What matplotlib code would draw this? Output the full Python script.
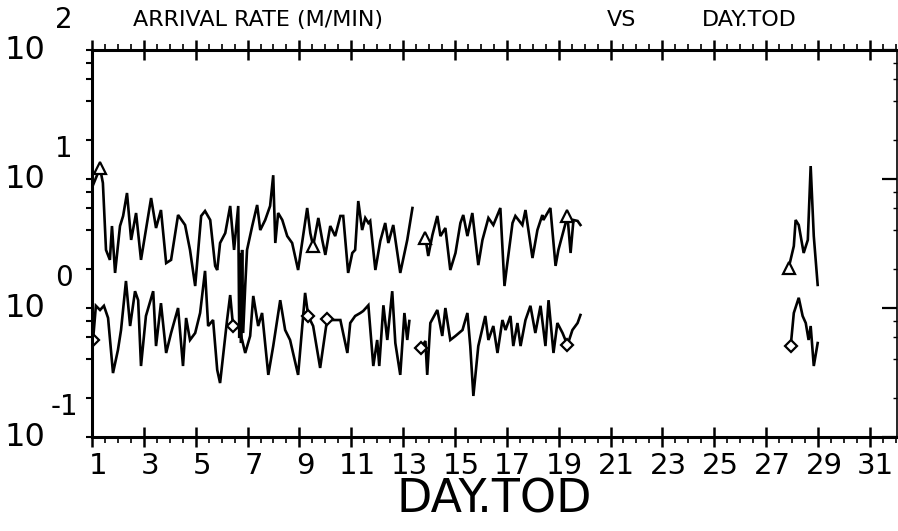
import numpy as np
import matplotlib
matplotlib.use("Agg")
import matplotlib.pyplot as plt
from matplotlib import transforms
from matplotlib.ticker import LogLocator, NullFormatter, MultipleLocator, FixedLocator

nan = np.nan

# upper curve (triangle symbol): three pieces with gaps between them
up_day_1 = [1.04, 1.31, 1.42, 1.54, 1.69, 1.77, 1.89, 2.08, 2.20, 2.35,
            2.51, 2.70, 2.89, 3.28, 3.47, 3.66, 3.86, 4.05, 4.32, 4.59,
            4.78, 4.98, 5.21, 5.36, 5.56, 5.75, 5.83, 5.94, 6.14, 6.33,
            6.48, 6.64, 6.68, 6.71, 6.75, 6.79, 6.83, 6.91, 6.98, 7.18,
            7.37, 7.49, 7.68, 7.87, 7.99, 8.07, 8.18, 8.34, 8.53, 8.72,
            8.95, 9.30, 9.42, 9.53, 9.73, 9.88, 10.00, 10.19, 10.38, 10.58,
            10.69, 10.88, 11.04, 11.15, 11.27, 11.42, 11.54, 11.66, 11.73, 11.93,
            12.12, 12.31, 12.43, 12.62, 12.89, 13.16, 13.36]
up_val_1 = [8.98, 12.2, 9.31, 2.82, 2.36, 4.32, 1.87, 4.32, 5.17, 7.79,
            3.37, 5.45, 2.36, 7.12, 4.17, 5.75, 2.23, 2.36, 5.26, 4.40,
            2.82, 1.48, 5.17, 5.65, 4.81, 2.12, 1.97, 3.19, 3.81, 6.18,
            2.82, 6.18, 0.585, 2.67, 0.535, 2.82, 0.64, 1.48, 2.82, 4.32,
            6.29, 4.02, 4.81, 6.18, 10.7, 3.19, 5.45, 4.81, 3.61, 3.19,
            1.97, 5.96, 3.81, 3.02, 4.99, 3.37, 2.58, 4.32, 3.61, 5.17,
            5.17, 1.87, 2.67, 2.82, 6.75, 4.02, 4.99, 4.56, 4.73, 1.97,
            3.31, 4.56, 3.19, 4.40, 1.87, 3.37, 5.96]
up_day_2 = [13.66, 13.86, 13.97, 14.13, 14.32, 14.44, 14.63, 14.82, 15.02, 15.21,
            15.32, 15.48, 15.67, 15.90, 16.06, 16.29, 16.48, 16.75, 16.91, 17.02,
            17.22, 17.33, 17.60, 17.72, 17.99, 18.18, 18.37, 18.41, 18.68, 18.88,
            18.99, 19.34, 19.46, 19.57, 19.73, 19.84]
up_val_2 = [3.19, 3.49, 2.53, 3.68, 5.17, 3.61, 4.17, 1.97, 2.67, 4.56,
            5.26, 3.61, 5.45, 2.15, 3.37, 4.99, 4.40, 5.96, 1.48, 2.23,
            4.56, 5.17, 4.40, 5.75, 2.44, 4.02, 5.26, 4.81, 5.96, 2.12,
            2.82, 5.17, 2.67, 4.81, 4.73, 4.40]
up_day_3 = [27.87, 28.07, 28.14, 28.26, 28.45, 28.61, 28.72, 28.84, 28.99]
up_val_3 = [2.04, 3.02, 4.81, 4.40, 2.67, 3.37, 12.6, 3.61, 1.51]

# lower curve (diamond symbol)
lo_day_1 = [1.04, 1.15, 1.31, 1.46, 1.62, 1.81, 2.00, 2.12, 2.31, 2.47,
            2.66, 2.78, 2.89, 3.08, 3.36, 3.47, 3.66, 3.86, 4.05, 4.32,
            4.51, 4.63, 4.78, 4.98, 5.17, 5.36, 5.48, 5.67, 5.83, 5.94,
            6.21, 6.33, 6.44, 6.64, 6.79, 6.91, 7.10, 7.22, 7.41, 7.56,
            7.80, 7.99, 8.26, 8.45, 8.64, 8.95, 9.22, 9.34, 9.53, 9.80,
            10.07, 10.27, 10.58, 10.85, 10.96, 11.15, 11.35, 11.46, 11.66, 11.85,
            12.00, 12.08, 12.24, 12.39, 12.58, 12.70, 12.89, 13.05, 13.16, 13.24]
lo_val_1 = [0.565, 1.04, 0.965, 1.04, 0.837, 0.313, 0.472, 0.675, 1.62, 0.725,
            1.35, 1.15, 0.355, 0.867, 1.35, 0.507, 1.09, 0.448, 0.640, 1.00,
            0.355, 0.837, 0.565, 0.640, 0.915, 1.94, 0.725, 0.807, 0.331, 0.262,
            0.807, 1.26, 0.725, 0.725, 0.565, 0.448, 0.607, 1.24, 0.725, 0.915,
            0.303, 0.507, 1.15, 0.675, 0.565, 0.303, 1.31, 0.867, 0.725, 0.343,
            0.82, 0.807, 0.807, 0.448, 0.765, 0.867, 0.915, 0.948, 1.05, 0.355,
            0.565, 0.355, 1.05, 0.565, 1.35, 0.535, 0.303, 0.915, 0.565, 0.793]
lo_day_2 = [13.70, 13.86, 13.93, 14.05, 14.32, 14.51, 14.63, 14.82, 15.02, 15.29,
            15.48, 15.59, 15.71, 15.90, 16.17, 16.29, 16.48, 16.64, 16.83, 16.95,
            17.14, 17.25, 17.41, 17.53, 17.72, 17.91, 18.10, 18.30, 18.49, 18.61,
            18.80, 18.95, 19.15, 19.34, 19.53, 19.73, 19.84]
lo_val_2 = [0.49, 0.555, 0.303, 0.765, 0.965, 0.607, 1.00, 0.565, 0.607, 0.675,
            0.915, 0.507, 0.208, 0.507, 0.867, 0.565, 0.725, 0.448, 0.807, 0.675,
            0.867, 0.507, 0.765, 0.507, 0.807, 1.04, 0.640, 1.04, 0.507, 1.15,
            0.448, 0.765, 0.640, 0.516, 0.675, 0.765, 0.883]
lo_day_3 = [27.95, 28.07, 28.26, 28.41, 28.53, 28.64, 28.72, 28.84, 28.99]
lo_val_3 = [0.507, 0.915, 1.20, 0.867, 0.765, 0.565, 0.725, 0.355, 0.535]

# days where the plotter drew a symbol
tri_days = [1.31, 9.53, 13.86, 19.34, 27.87]
dia_days = [1.04, 6.44, 9.34, 10.07, 13.70, 19.34, 27.95]

x_ticks = list(range(1, 32, 2))
y_decades = [0.1, 1, 10, 100]
y_exps = ["-1", "0", "1", "2"]


def join(*parts):
    out = []
    for p in parts:
        if out:
            out.append(nan)
        out.extend(p)
    return np.array(out)


up_day = join(up_day_1, up_day_2, up_day_3)
up_val = join(up_val_1, up_val_2, up_val_3)
lo_day = join(lo_day_1, lo_day_2, lo_day_3)
lo_val = join(lo_val_1, lo_val_2, lo_val_3)

plt.rcParams['font.family'] = ['DejaVu Sans']

fig = plt.figure(figsize=(8.98, 5.31), dpi=100)
ax = fig.add_axes([92 / 898, 1 - 437 / 531, 805 / 898, 387 / 531])

ax.plot(up_day, up_val, color='black', lw=1.9, solid_joinstyle='miter')
ax.plot(lo_day, lo_val, color='black', lw=1.9, solid_joinstyle='miter')

m = np.isin(up_day, tri_days)
ax.plot(up_day[m], up_val[m], ls='none', marker='^', ms=8, mfc='white',
        mec='black', mew=1.6)
m = np.isin(lo_day, dia_days)
ax.plot(lo_day[m], lo_val[m], ls='none', marker='D', ms=6.5, mfc='white',
        mec='black', mew=1.6)

ax.set_yscale('log')
ax.set_ylim(0.1, 100)
ax.set_xlim(1, 32.05)

for side in ['left', 'bottom', 'top']:
    ax.spines[side].set_linewidth(2.2)
ax.spines['right'].set_linewidth(1.2)

# x ticks: long crossing ticks at odd days, small ones every half day
ax.xaxis.set_major_locator(FixedLocator(x_ticks))
ax.xaxis.set_minor_locator(MultipleLocator(0.5))
ax.tick_params(axis='x', which='major', top=True, bottom=True, direction='inout',
               length=14, width=1.8, labelsize=21, pad=4)
ax.tick_params(axis='x', which='minor', top=True, bottom=True, direction='out',
               length=4, width=1.2)
for lab in ax.get_xticklabels():
    lab.set_transform(lab.get_transform() +
                      transforms.ScaledTranslation(0.06, 0, fig.dpi_scale_trans))

# y ticks: small outward marks on the left, labels written by hand below
ax.yaxis.set_major_locator(LogLocator(base=10, numticks=10))
ax.yaxis.set_minor_locator(LogLocator(base=10, subs=[2, 4, 6, 8], numticks=10))
ax.yaxis.set_major_formatter(NullFormatter())
ax.yaxis.set_minor_formatter(NullFormatter())
ax.tick_params(axis='y', which='both', left=True, right=False, direction='out',
               length=4, width=1.5)

ax2 = ax.twinx()
ax2.set_yscale('log')
ax2.set_ylim(0.1, 100)
ax2.yaxis.set_major_locator(LogLocator(base=10, numticks=10))
ax2.yaxis.set_minor_locator(LogLocator(base=10, subs=[2, 4, 6, 8], numticks=10))
ax2.yaxis.set_major_formatter(NullFormatter())
ax2.yaxis.set_minor_formatter(NullFormatter())
ax2.tick_params(axis='y', which='major', direction='in', length=11, width=1.6)
ax2.tick_params(axis='y', which='minor', direction='in', length=3, width=1)
for s in ax2.spines.values():
    s.set_visible(False)

tr = transforms.blended_transform_factory(fig.transFigure, ax.transData)
tr_up = transforms.offset_copy(tr, fig=fig, x=0, y=30, units='dots')
for v, e in zip(y_decades, y_exps):
    fig.text(25 / 898, v, "10", transform=tr, ha='center', va='center',
             fontsize=23)
    fig.text(64 / 898, v, e, transform=tr_up, ha='center', va='center',
             fontsize=20)

fig.text(133 / 898, 1 - 20 / 531, "ARRIVAL RATE (M/MIN)", ha='left',
         va='center', fontsize=16)
fig.text(607 / 898, 1 - 20 / 531, "VS", ha='left', va='center', fontsize=16)
fig.text(702 / 898, 1 - 20 / 531, "DAY.TOD", ha='left', va='center', fontsize=16)

ax.set_xlabel("DAY.TOD", fontsize=33, labelpad=-2)

fig.savefig("out.png", dpi=100)
